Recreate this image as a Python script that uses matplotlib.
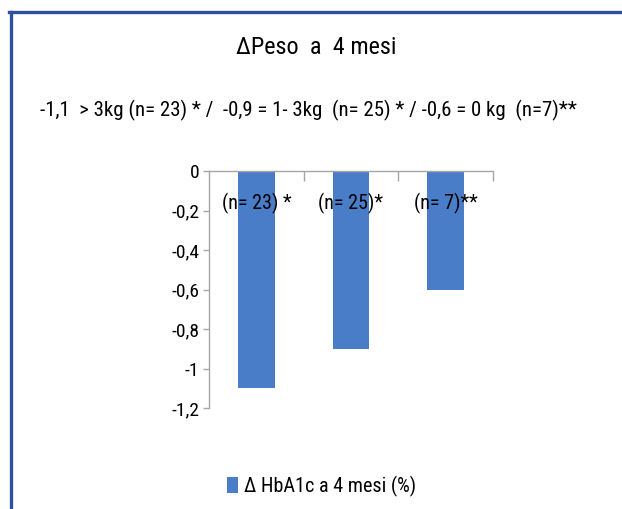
import matplotlib
matplotlib.use("Agg")
import matplotlib.pyplot as plt
from matplotlib.lines import Line2D

plt.rcParams['font.family'] = ['Roboto Condensed', 'DejaVu Sans']

# Data
categories = ["(n= 23) *", "(n= 25)*", "(n= 7)**"]
hba1c_change = [-1.1, -0.9, -0.6]
y_ticks = [0, -0.2, -0.4, -0.6, -0.8, -1.0, -1.2]
y_tick_labels = ["0", "-0,2", "-0,4", "-0,6", "-0,8", "-1", "-1,2"]
title = "\u0394Peso  a  4 mesi"
subtitle = "-1,1  > 3kg (n= 23) * /  -0,9 = 1- 3kg  (n= 25) * / -0,6 = 0 kg  (n=7)**"
series_label = "\u0394 HbA1c a 4 mesi (%)"

bar_color = "#4A7DC8"
axis_color = "#A6A6A6"
frame_color = "#2F4E9E"

fig = plt.figure(figsize=(6.22, 5.09), dpi=100)
ax = fig.add_axes([0.336, 0.1984, 0.4566, 0.4656])

x = list(range(len(categories)))
bars = ax.bar(x, hba1c_change, width=0.39, color=bar_color, label=series_label, zorder=2)

ax.set_xlim(-0.5, len(categories) - 0.5)
ax.set_ylim(-1.2, 0)
ax.set_yticks(y_ticks)
ax.set_yticklabels(y_tick_labels, fontsize=14)
ax.tick_params(axis='y', direction='out', length=4, color=axis_color, width=1, pad=3)

# Category axis sits at zero, with tick marks between categories
ax.xaxis.set_ticks_position('top')
ax.set_xticks([i + 0.5 for i in x])
ax.set_xticklabels([])
ax.tick_params(axis='x', direction='in', length=7, color=axis_color, width=1)

for side in ('bottom', 'right'):
    ax.spines[side].set_visible(False)
for side in ('top', 'left'):
    ax.spines[side].set_color(axis_color)
    ax.spines[side].set_linewidth(1)

for xi, lab in zip(x, categories):
    ax.text(xi, -0.165, lab, ha='center', va='center', fontsize=14.5, zorder=3)

fig.text(0.509, 1 - 47 / 509, title, ha='center', va='center', fontsize=17.5)
fig.text(0.496, 1 - 110 / 509, subtitle, ha='center', va='center', fontsize=15)

fig.legend(handles=[bars], labels=[series_label], loc='center',
           bbox_to_anchor=(0.517, 1 - 486 / 509), frameon=False, fontsize=14.5,
           handlelength=0.5, handleheight=0.9, handletextpad=0.3)

# Outer frame lines
fig.add_artist(Line2D([9 / 622, 1], [1 - 12 / 509, 1 - 12 / 509],
                      transform=fig.transFigure, color=frame_color, lw=2.4))
fig.add_artist(Line2D([10.5 / 622, 10.5 / 622], [0, 1 - 12 / 509],
                      transform=fig.transFigure, color=frame_color, lw=2.4))

fig.savefig("out.png", dpi=100)
